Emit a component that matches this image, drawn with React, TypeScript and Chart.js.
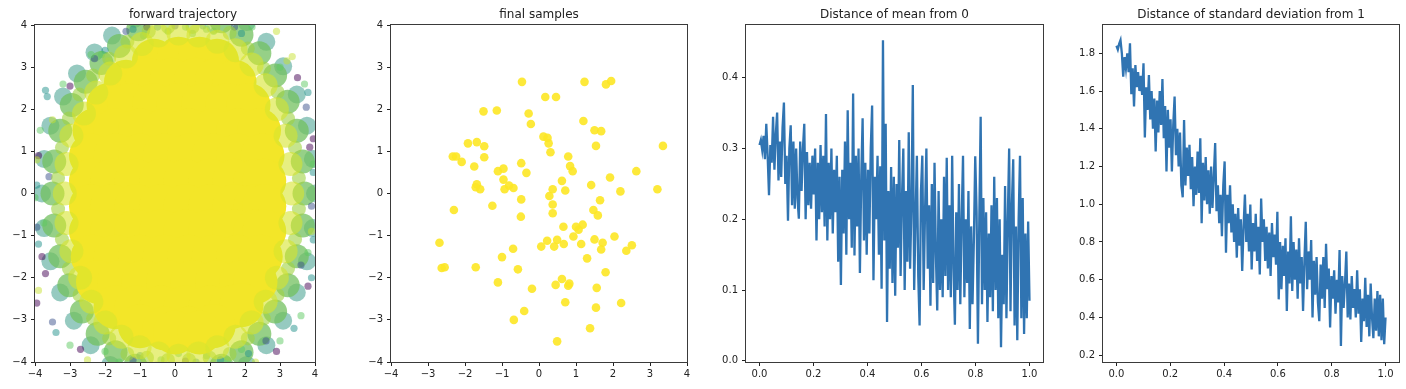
import React, { useEffect, useRef } from "react";
import { Chart, registerables } from "chart.js";
Chart.register(...registerables);

const FONT = "'DejaVu Sans', sans-serif";
const TICK_COLOR = "#222";
const LINE_COLOR = "#3074b2";

// ---------- tick labels ----------
const squareTicks = [-4, -3, -2, -1, 0, 1, 2, 3, 4];
const unitTicks = [0, 0.2, 0.4, 0.6, 0.8, 1.0];
const meanTicks = [0, 0.1, 0.2, 0.3, 0.4];
const stdTicks = [0.2, 0.4, 0.6, 0.8, 1.0, 1.2, 1.4, 1.6, 1.8];

const titles = [
  "forward trajectory",
  "final samples",
  "Distance of mean from 0",
  "Distance of standard deviation from 1",
];

// ---------- panel 1: forward trajectory ----------
const trajCore = [
  [-0.6, 3.15], [0.1, 3.2], [0.7, 3.2], [1.2, 3.15],
  [-1.4, 2.65], [-0.8, 2.7], [-0.1, 2.7], [0.6, 2.7], [1.2, 2.7], [1.7, 2.65],
  [-1.9, 2.1], [-1.3, 2.1], [-0.6, 2.1], [0.1, 2.1], [0.8, 2.1], [1.5, 2.1], [2.1, 2.1],
  [-2.3, 1.5], [-1.7, 1.5], [-1.0, 1.5], [-0.3, 1.5], [0.4, 1.5], [1.1, 1.5], [1.8, 1.5], [2.4, 1.5],
  [-2.4, 0.9], [-1.7, 0.9], [-1.0, 0.9], [-0.3, 0.9], [0.4, 0.9], [1.1, 0.9], [1.8, 0.9], [2.5, 0.9],
  [-2.4, 0.3], [-1.8, 0.3], [-1.1, 0.3], [-0.4, 0.3], [0.3, 0.3], [1.0, 0.3], [1.7, 0.3], [2.3, 0.3], [2.55, 0.3],
  [-2.4, -0.3], [-1.8, -0.3], [-1.1, -0.3], [-0.4, -0.3], [0.3, -0.3], [1.0, -0.3], [1.7, -0.3], [2.3, -0.3], [2.55, -0.3],
  [-2.4, -0.9], [-1.8, -0.9], [-1.1, -0.9], [-0.4, -0.9], [0.3, -0.9], [1.0, -0.9], [1.7, -0.9], [2.3, -0.9], [2.55, -0.9],
  [-2.35, -1.5], [-1.7, -1.5], [-1.0, -1.5], [-0.3, -1.5], [0.4, -1.5], [1.1, -1.5], [1.8, -1.5], [2.45, -1.5],
  [-2.2, -2.1], [-1.6, -2.1], [-0.9, -2.1], [-0.2, -2.1], [0.5, -2.1], [1.2, -2.1], [1.9, -2.1], [2.3, -2.1],
  [-1.7, -2.7], [-1.1, -2.7], [-0.4, -2.7], [0.3, -2.7], [1.0, -2.7], [1.6, -2.7], [1.9, -2.65],
  [-1.0, -3.15], [-0.3, -3.2], [0.4, -3.2], [1.1, -3.15], [0.0, -3.3], [0.7, -3.3],
];
const trajRingYellowGreen = [
  [3.35, 0], [3.3, 0.7], [3.16, 1.37], [2.91, 2.0], [2.59, 2.57], [2.19, 3.06], [1.73, 3.4], [1.21, 3.6],
  [0.67, 3.75], [0.1, 3.8], [-0.47, 3.75], [-0.95, 3.55], [-1.4, 3.25], [-1.85, 2.85], [-2.25, 2.4],
  [-2.6, 1.9], [-2.96, 1.37], [-3.1, 0.7], [-3.15, 0], [-3.1, -0.7], [-2.96, -1.37], [-2.71, -2.0],
  [-2.39, -2.57], [-1.99, -3.06], [-1.53, -3.4], [-1.01, -3.65], [-0.47, -3.8], [0.1, -3.85],
  [0.67, -3.8], [1.21, -3.65], [1.73, -3.4], [2.19, -3.06], [2.59, -2.57], [2.91, -2.0], [3.16, -1.37],
  [3.3, -0.7],
];
const trajBandDots = [
  [3.54, 0.37], [3.43, 1.09], [3.23, 1.78], [2.93, 2.41], [2.54, 2.97], [2.08, 3.44], [1.56, 3.81],
  [-0.75, 3.85], [-1.36, 3.6], [-1.88, 3.2], [-2.34, 2.8], [-2.73, 2.35], [-3.03, 1.78], [-3.23, 1.09],
  [-3.34, 0.37], [-3.34, -0.37], [-3.23, -1.09], [-3.03, -1.78], [-2.73, -2.41], [-2.34, -2.97],
  [-1.88, -3.44], [-1.36, -3.81], [-0.8, -3.9], [-0.2, -3.95], [0.4, -3.95], [0.99, -3.9], [1.56, -3.81],
  [2.08, -3.44], [2.54, -2.97], [2.93, -2.41], [3.23, -1.78], [3.43, -1.09], [3.54, -0.37],
  [-0.2, 3.95], [0.5, 3.95], [1.1, 3.95],
];
const trajRingGreen = [
  [3.7, 0], [3.65, 0.76], [3.48, 1.49], [3.22, 2.18], [2.86, 2.8], [2.41, 3.33], [1.9, 3.77], [1.33, 4.09],
  [0.73, 4.28], [0.1, 4.35], [-0.53, 4.28], [-1.05, 3.9], [-1.6, 3.5], [-2.1, 3.1], [-2.55, 2.65],
  [-2.95, 2.1], [-3.28, 1.49], [-3.45, 0.76], [-3.5, 0], [-3.45, -0.76], [-3.28, -1.49], [-3.02, -2.18],
  [-2.66, -2.8], [-2.21, -3.33], [-1.7, -3.77], [-1.13, -4.09], [-0.53, -4.28], [0.1, -4.35],
  [0.73, -4.28], [1.33, -4.09], [1.9, -3.77], [2.41, -3.33], [2.86, -2.8], [3.22, -2.18], [3.48, -1.49],
  [3.65, -0.76],
];
const trajRingTeal = [
  [4.0, 0], [3.94, 0.82], [3.77, 1.61], [3.48, 2.35], [3.09, 3.02], [2.61, 3.6], [2.05, 4.07],
  [-1.15, 4.15], [-1.8, 3.75], [-2.3, 3.35], [-2.8, 2.85], [-3.2, 2.3], [-3.56, 1.61], [-3.74, 0.82],
  [-3.8, 0], [-3.74, -0.82], [-3.56, -1.61], [-3.28, -2.35], [-2.89, -3.02], [-2.41, -3.6],
  [-1.85, -4.07], [2.05, -4.07], [2.61, -3.6], [3.09, -3.02], [3.48, -2.35], [3.77, -1.61], [3.94, -0.82],
];
const trajEdgePurple = [
  [-3.7, -1.9], [-3.95, -2.6], [3.95, 1.3], [3.85, 1.1], [-3.0, 2.55], [3.5, 2.75], [-3.8, -1.5],
  [2.9, -3.75], [-0.8, 3.95], [-2.7, -3.7], [3.8, -2.2], [-3.9, 0.9], [0.3, -3.98],
];
const trajEdgeBlue = [
  [-1.4, 3.85], [3.75, 2.05], [-3.6, 0.4], [3.9, -0.3], [-3.5, -3.05], [2.6, -3.5], [-2.3, 3.2],
  [1.7, 3.95], [-3.95, -0.8], [3.6, -1.7], [-1.2, -3.95], [0.0, 3.98],
];
const trajEdgeTeal = [
  [-1.2, 3.9], [-3.7, 2.45], [-3.65, 2.3], [-3.4, -3.3], [3.8, 2.4], [3.9, -2.0], [3.4, -3.2],
  [2.1, -3.8], [-0.5, 3.95], [-3.9, -1.2], [3.95, 0.5], [-2.0, 3.4], [0.6, -4.0], [-3.95, 0.2], [3.95, -1.1],
  [0.8, 3.98], [1.9, 3.8], [-1.0, -3.85], [1.3, -3.95],
];
const trajEdgeGreen = [
  [-2.4, 3.3], [-2.1, 3.3], [-3.2, 2.6], [3.0, 3.0], [3.7, 2.6], [3.95, 0.7], [3.6, -2.9], [3.0, -3.5],
  [-3.0, -3.6], [-1.6, -4.0], [-3.75, -0.7], [-4.0, -0.1], [2.2, 3.95], [3.8, -1.4], [-3.85, 1.5],
  [0.3, 3.95], [0.9, 3.9], [1.5, -3.95], [-0.4, -3.95], [-0.2, 3.85], [0.5, 3.8], [1.1, 3.85],
  [-0.9, 3.75], [0.1, -3.8], [0.9, -3.85], [1.9, -3.7], [-2.0, -3.75],
];
const trajEdgeLime = [
  [-1.9, 3.15], [2.9, 3.85], [3.2, 3.15], [-3.5, 1.75], [3.35, 3.25], [-3.95, 0.8], [2.3, -4.0],
  [3.9, -0.9], [-2.5, -3.95], [-3.9, -2.3],
];

// ---------- panel 2: final samples ----------
const finalX = [
  -0.46, 1.23, 1.81, 1.95, 0.17, 0.46, -1.5, -1.14, -0.28, -0.22, 1.2, 1.5, 1.68, -1.92, -1.68, -1.48,
  0.12, 0.23, 0.26, 0.31, 1.54, 3.35, -2.33, -2.24, -2.09, -1.48, 0.79, -1.75, -1.11, -0.96, -0.48, -0.34,
  0.84, 0.91, 2.63, -0.96, -1.68, -1.71, -1.59, -0.93, -0.81, -0.69, 0.62, 0.37, 0.71, 1.41, 1.92, 2.2,
  3.2, 0.28, -0.48, 1.65, -1.26, -2.3, 0.37, 0.37, 1.47, 1.59, -0.49, 0.66, 1.0, 1.18, 1.07, 0.93, 2.04,
  -2.69, 0.22, 0.49, 1.5, 0.06, 0.41, 0.67, 1.14, 1.72, 1.68, 2.51, 2.36, -0.7, -1.0, 1.3, -2.63, -2.55,
  -1.71, -0.57, 1.8, -1.11, -0.19, 0.45, 0.62, 0.79, 0.82, 1.56, 0.71, 2.22, 1.54, -0.4, -0.68, 1.38, 0.49,
];
const finalY = [
  2.65, 2.65, 2.59, 2.67, 2.29, 2.29, 1.95, 1.97, 1.9, 1.65, 1.72, 1.5, 1.48, 1.19, 1.22, 1.12,
  1.35, 1.32, 1.19, 0.98, 1.13, 1.13, 0.88, 0.88, 0.75, 0.86, 0.88, 0.64, 0.53, 0.59, 0.72, 0.49,
  0.65, 0.53, 0.53, 0.33, 0.22, 0.15, 0.1, 0.1, 0.19, 0.13, 0.3, 0.1, 0.07, 0.2, 0.38, 0.05,
  0.1, -0.06, -0.14, -0.16, -0.29, -0.39, -0.26, -0.47, -0.39, -0.52, -0.55, -0.79, -0.79, -0.74, -0.86, -1.02, -1.02,
  -1.17, -1.12, -1.1, -1.09, -1.26, -1.26, -1.2, -1.2, -1.17, -1.33, -1.23, -1.36, -1.31, -1.51, -1.54, -1.77, -1.75,
  -1.75, -1.8, -1.87, -2.11, -2.26, -2.17, -2.03, -2.19, -2.14, -2.24, -2.58, -2.6, -2.71, -2.79, -3.0, -3.2, -3.51,
];

// ---------- panel 3: distance of mean from 0 ----------
const meanValues = [
  0.305, 0.312, 0.298, 0.318, 0.285, 0.335, 0.29, 0.234, 0.305, 0.28,
  0.345, 0.27, 0.32, 0.351, 0.255, 0.31, 0.26, 0.33, 0.365, 0.25,
  0.29, 0.198, 0.3, 0.333, 0.22, 0.31, 0.215, 0.3, 0.23, 0.201,
  0.31, 0.24, 0.3, 0.335, 0.2, 0.295, 0.22, 0.28, 0.215, 0.29,
  0.235, 0.3, 0.17, 0.28, 0.2, 0.305, 0.21, 0.29, 0.19, 0.349,
  0.17, 0.28, 0.2, 0.3, 0.18, 0.27, 0.21, 0.29, 0.14, 0.26,
  0.107, 0.27, 0.18, 0.31, 0.15, 0.354, 0.2, 0.28, 0.16, 0.378,
  0.149, 0.29, 0.19, 0.3, 0.124, 0.26, 0.343, 0.17, 0.28, 0.15,
  0.27, 0.18, 0.3, 0.361, 0.114, 0.26, 0.2, 0.29, 0.15, 0.275,
  0.102, 0.453, 0.17, 0.335, 0.055, 0.24, 0.13, 0.274, 0.11, 0.26,
  0.092, 0.25, 0.16, 0.312, 0.12, 0.23, 0.3, 0.1, 0.24, 0.14,
  0.323, 0.13, 0.22, 0.39, 0.1, 0.2, 0.29, 0.12, 0.05, 0.24,
  0.29, 0.1, 0.21, 0.3, 0.13, 0.22, 0.078, 0.25, 0.11, 0.28,
  0.15, 0.071, 0.24, 0.1, 0.2, 0.09, 0.26, 0.12, 0.287, 0.1,
  0.22, 0.09, 0.29, 0.13, 0.051, 0.21, 0.1, 0.25, 0.08, 0.2,
  0.29, 0.09, 0.2, 0.11, 0.24, 0.045, 0.19, 0.08, 0.17, 0.289,
  0.21, 0.024, 0.2, 0.345, 0.08, 0.23, 0.1, 0.21, 0.055, 0.18,
  0.09, 0.22, 0.07, 0.26, 0.1, 0.23, 0.06, 0.2, 0.019, 0.15,
  0.08, 0.247, 0.06, 0.2, 0.3, 0.07, 0.22, 0.285, 0.05, 0.19,
  0.029, 0.2, 0.29, 0.06, 0.23, 0.038, 0.18, 0.06, 0.197, 0.085,
];

// ---------- panel 4: distance of std from 1 ----------
const stdValues = [
  1.84, 1.82, 1.85, 1.87, 1.8, 1.676, 1.78, 1.72, 1.8, 1.7,
  1.853, 1.583, 1.72, 1.518, 1.738, 1.62, 1.7, 1.6, 1.68, 1.58,
  1.747, 1.354, 1.62, 1.5, 1.685, 1.45, 1.6, 1.4, 1.56, 1.28,
  1.55, 1.38, 1.6, 1.42, 1.664, 1.35, 1.52, 1.174, 1.5, 1.3,
  1.45, 1.174, 1.42, 1.571, 1.26, 1.4, 1.2, 1.38, 1.1, 1.037,
  1.447, 1.1, 1.3, 1.15, 1.315, 1.08, 1.25, 0.99, 1.2, 1.05,
  1.28, 1.06, 1.35, 0.9, 1.22, 1.02, 1.25, 1.0, 1.18, 0.95,
  1.2, 0.98, 1.15, 1.324, 0.963, 1.1, 0.9, 1.05, 0.83, 1.1,
  1.227, 0.743, 1.05, 0.9, 1.1, 0.85, 1.0, 0.8, 0.95, 0.717,
  0.98, 0.78, 0.92, 0.646, 0.88, 1.051, 0.8, 0.95, 0.75, 0.998,
  0.655, 0.9, 0.75, 0.95, 0.7, 0.88, 0.628, 1.03, 0.8, 0.92,
  0.7, 0.88, 0.66, 0.85, 0.62, 0.9, 0.72, 0.84, 0.68, 0.96,
  0.496, 0.8, 0.55, 0.78, 0.62, 0.82, 0.434, 0.75, 0.58, 0.936,
  0.54, 0.8, 0.6, 0.76, 0.5, 0.82, 0.58, 0.72, 0.434, 0.7,
  0.907, 0.55, 0.75, 0.6, 0.81, 0.4, 0.7, 0.52, 0.72, 0.48,
  0.38, 0.68, 0.5, 0.72, 0.45, 0.79, 0.55, 0.66, 0.347, 0.62,
  0.5, 0.65, 0.42, 0.6, 0.48, 0.757, 0.249, 0.62, 0.45, 0.58,
  0.75, 0.4, 0.58, 0.39, 0.62, 0.45, 0.55, 0.4, 0.65, 0.42,
  0.55, 0.27, 0.5, 0.38, 0.61, 0.35, 0.52, 0.3, 0.58, 0.4,
  0.29, 0.5, 0.33, 0.54, 0.3, 0.52, 0.28, 0.5, 0.258, 0.4,
];

// ---------- layout ----------
const H = 389;
const PLOT_TOP = 25;
const PLOT_BOTTOM = 362;
const Y_AXIS_W = 34;
const X_AXIS_H = 22;
const RIGHT_PAD = 6;
const panels = [
  { left: 35, right: 331 },
  { left: 391, right: 687 },
  { left: 746, right: 1043 },
  { left: 1103, right: 1399 },
];

const fmtInt = (v: number) => (v < 0 ? "\u2212" + Math.abs(v) : String(v));
const fmt1 = (v: number) => Number(v).toFixed(1);

const toPts = (arr: number[][]) => arr.map(([x, y]) => ({ x, y }));
const seriesPts = (vals: number[]) => vals.map((y, i) => ({ x: i / (vals.length - 1), y }));

function axis(min: number, max: number, ticks: number[], fmt: (v: number) => string, isX: boolean) {
  return {
    type: "linear",
    min,
    max,
    afterBuildTicks: (s: any) => {
      s.ticks = ticks.map((v) => ({ value: v }));
    },
    afterFit: (s: any) => {
      if (isX) s.height = X_AXIS_H;
      else s.width = Y_AXIS_W;
    },
    ticks: {
      callback: (v: any) => fmt(Number(v)),
      color: TICK_COLOR,
      font: { family: FONT, size: 10 },
      padding: isX ? 2 : 4,
      maxRotation: 0,
      minRotation: 0,
      autoSkip: false,
    },
    grid: {
      drawOnChartArea: false,
      drawTicks: true,
      tickLength: 4,
      tickColor: "#222",
      tickWidth: 1,
    },
    border: { display: false },
  };
}

const framePlugin = {
  id: "frame",
  afterDraw(chart: any) {
    const { ctx, chartArea } = chart;
    const { left, top, right, bottom } = chartArea;
    ctx.save();
    ctx.strokeStyle = "#3a3a3a";
    ctx.lineWidth = 1;
    ctx.strokeRect(left - 0.5, top - 0.5, right - left + 1, bottom - top + 1);
    ctx.restore();
  },
};

function scatterSet(data: number[][], color: string, r: number) {
  return {
    data: toPts(data),
    backgroundColor: color,
    borderWidth: 0,
    pointRadius: r,
    pointHoverRadius: r,
  };
}

function baseOptions(scales: any) {
  return {
    animation: false,
    responsive: false,
    devicePixelRatio: 1,
    events: [],
    layout: {
      padding: { left: 0, right: RIGHT_PAD, top: PLOT_TOP, bottom: H - PLOT_BOTTOM - X_AXIS_H },
    },
    plugins: { legend: { display: false }, title: { display: false }, tooltip: { enabled: false } },
    scales,
  };
}

function configFor(idx: number): any {
  if (idx === 0) {
    // first dataset is drawn on top
    return {
      type: "scatter",
      data: {
        datasets: [
          scatterSet(trajRingYellowGreen, "rgba(215,228,45,0.6)", 12),
          scatterSet(trajCore, "rgb(243,230,40)", 22),
          scatterSet(trajBandDots, "rgba(160,210,65,0.6)", 7),
          scatterSet(trajEdgeLime, "rgba(200,225,50,0.5)", 3.6),
          scatterSet(trajEdgeGreen, "rgba(94,201,98,0.5)", 3.6),
          scatterSet(trajEdgeTeal, "rgba(33,145,140,0.5)", 3.6),
          scatterSet(trajEdgeBlue, "rgba(59,82,139,0.5)", 3.6),
          scatterSet(trajEdgePurple, "rgba(68,1,84,0.5)", 3.6),
          scatterSet(trajRingGreen, "rgba(115,192,95,0.75)", 12),
          scatterSet(trajRingTeal, "rgba(45,150,130,0.5)", 9),
        ],
      },
      options: baseOptions({
        x: axis(-4, 4, squareTicks, fmtInt, true),
        y: axis(-4, 4, squareTicks, fmtInt, false),
      }),
      plugins: [framePlugin],
    };
  }
  if (idx === 1) {
    return {
      type: "scatter",
      data: {
        datasets: [
          {
            data: finalX.map((x, i) => ({ x, y: finalY[i] })),
            backgroundColor: "rgba(253,231,37,0.9)",
            borderWidth: 0,
            pointRadius: 4.3,
          },
        ],
      },
      options: baseOptions({
        x: axis(-4, 4, squareTicks, fmtInt, true),
        y: axis(-4, 4, squareTicks, fmtInt, false),
      }),
      plugins: [framePlugin],
    };
  }
  const isMean = idx === 2;
  return {
    type: "line",
    data: {
      datasets: [
        {
          data: seriesPts(isMean ? meanValues : stdValues),
          borderColor: LINE_COLOR,
          borderWidth: 2.3,
          pointRadius: 0,
          tension: 0,
          fill: false,
        },
      ],
    },
    options: baseOptions({
      x: axis(-0.05, 1.05, unitTicks, fmt1, true),
      y: isMean
        ? axis(-0.0017, 0.4747, meanTicks, fmt1, false)
        : axis(0.164, 1.95, stdTicks, fmt1, false),
    }),
    plugins: [framePlugin],
  };
}

function Panel({ idx }: { idx: number }) {
  const ref = useRef<HTMLCanvasElement | null>(null);
  const p = panels[idx];
  const canvasLeft = p.left - Y_AXIS_W;
  const w = Y_AXIS_W + (p.right - p.left) + RIGHT_PAD;
  useEffect(() => {
    if (!ref.current) return;
    const chart = new Chart(ref.current, configFor(idx));
    return () => chart.destroy();
  }, [idx]);
  return (
    <>
      <canvas
        ref={ref}
        width={w}
        height={H}
        style={{ position: "absolute", left: canvasLeft, top: 0, width: w, height: H }}
      />
      <div
        style={{
          position: "absolute",
          left: p.left,
          width: p.right - p.left,
          top: 7,
          textAlign: "center",
          font: `12px ${FONT}`,
          lineHeight: "14px",
          color: "#222",
          whiteSpace: "nowrap",
        }}
      >
        {titles[idx]}
      </div>
    </>
  );
}

export default function App() {
  return (
    <div
      style={{
        position: "fixed",
        left: 0,
        top: 0,
        width: 1406,
        height: H,
        background: "#fff",
        overflow: "hidden",
      }}
    >
      {panels.map((_, i) => (
        <Panel key={i} idx={i} />
      ))}
    </div>
  );
}
